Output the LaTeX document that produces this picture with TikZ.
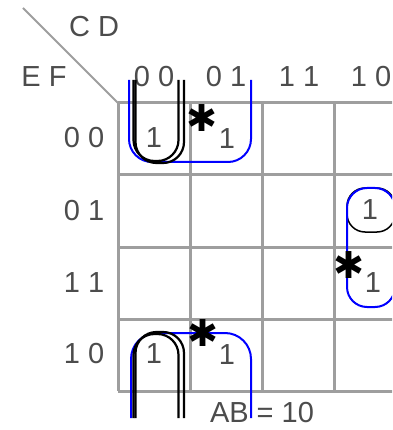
\documentclass[tikz,border=0pt]{standalone}
\usepackage{fontspec}
\setmainfont{Liberation Sans}
\newfontfamily\starfont{DejaVu Sans}
\definecolor{loopblue}{RGB}{0,0,255}
\colorlet{cellgray}{black!38}
\begin{document}
\begin{tikzpicture}[x=1pt, y=-1pt,
  lbl/.style={inner sep=0pt, text=black!70, font=\fontsize{29}{34}\selectfont},
  astx/.style={inner sep=0pt, font=\fontsize{37}{40}\starfont},
  cellline/.style={draw=cellgray, line width=3pt},
  bgrp/.style={draw=loopblue, line width=2pt},
  kgrp/.style={draw=black, line width=2.2pt},
]
\clip (0,0) rectangle (392,430);
\coordinate (corner) at (118,103);
\coordinate (tip) at (23,8);
\draw[cellgray, line width=2pt] (tip) -- (corner);
\foreach \x in {118,190,262,334,406}
  \draw[cellline] (\x,103) -- (\x,391);
\foreach \y in {103,175,247,319,391}
  \draw[cellline] (118,\y) -- (406,\y);

\node[lbl] (cd) at (94,27) {C D};
\node[lbl] (ef) at (44,77) {E F};
\node[lbl] (c00) at (154,77) {0 0};
\node[lbl] (c01) at (226,77) {0 1};
\node[lbl] (c11) at (299,77) {1 1};
\node[lbl] (c10) at (371,77) {1 0};
\node[lbl] (r00) at (84,138) {0 0};
\node[lbl] (r01) at (84,211) {0 1};
\node[lbl] (r11) at (84,283) {1 1};
\node[lbl] (r10) at (84,354) {1 0};
\node[lbl] (m0) at (154,138) {1};
\node[lbl] (m1) at (227,139) {1};
\node[lbl] (m2) at (370,210) {1};
\node[lbl] (m3) at (373,283) {1};
\node[lbl] (m8) at (154,354) {1};
\node[lbl] (m9) at (227,355) {1};
\node[lbl] (ab) at (262,413) {AB = 10};

\draw[bgrp, rounded corners=23] (129,80) -- (129,162) -- (251,162) -- (251,80);
\draw[bgrp, rounded corners=26] (131,418) -- (131,333) -- (251,333) -- (251,418);
\draw[kgrp, rounded corners=21] (133.5,80) -- (133.5,161) -- (178.5,161) -- (178.5,80);
\draw[kgrp, rounded corners=21] (135.5,80) -- (135.5,163) -- (184,163) -- (184,80);
\draw[kgrp, rounded corners=21] (133.5,418) -- (133.5,334) -- (178.5,334) -- (178.5,418);
\draw[kgrp, rounded corners=21] (135.5,418) -- (135.5,332) -- (184,332) -- (184,418);
\draw[kgrp, line width=1.5pt, rounded corners=18] (347,188) rectangle (395,232);
\draw[bgrp, rounded corners=20] (347,188) rectangle (395,307);

\node[astx] (s1) at (202,118) {✱};
\node[astx] (s9) at (203,333) {✱};
\node[astx] (s3) at (349,265) {✱};
\end{tikzpicture}
\end{document}
